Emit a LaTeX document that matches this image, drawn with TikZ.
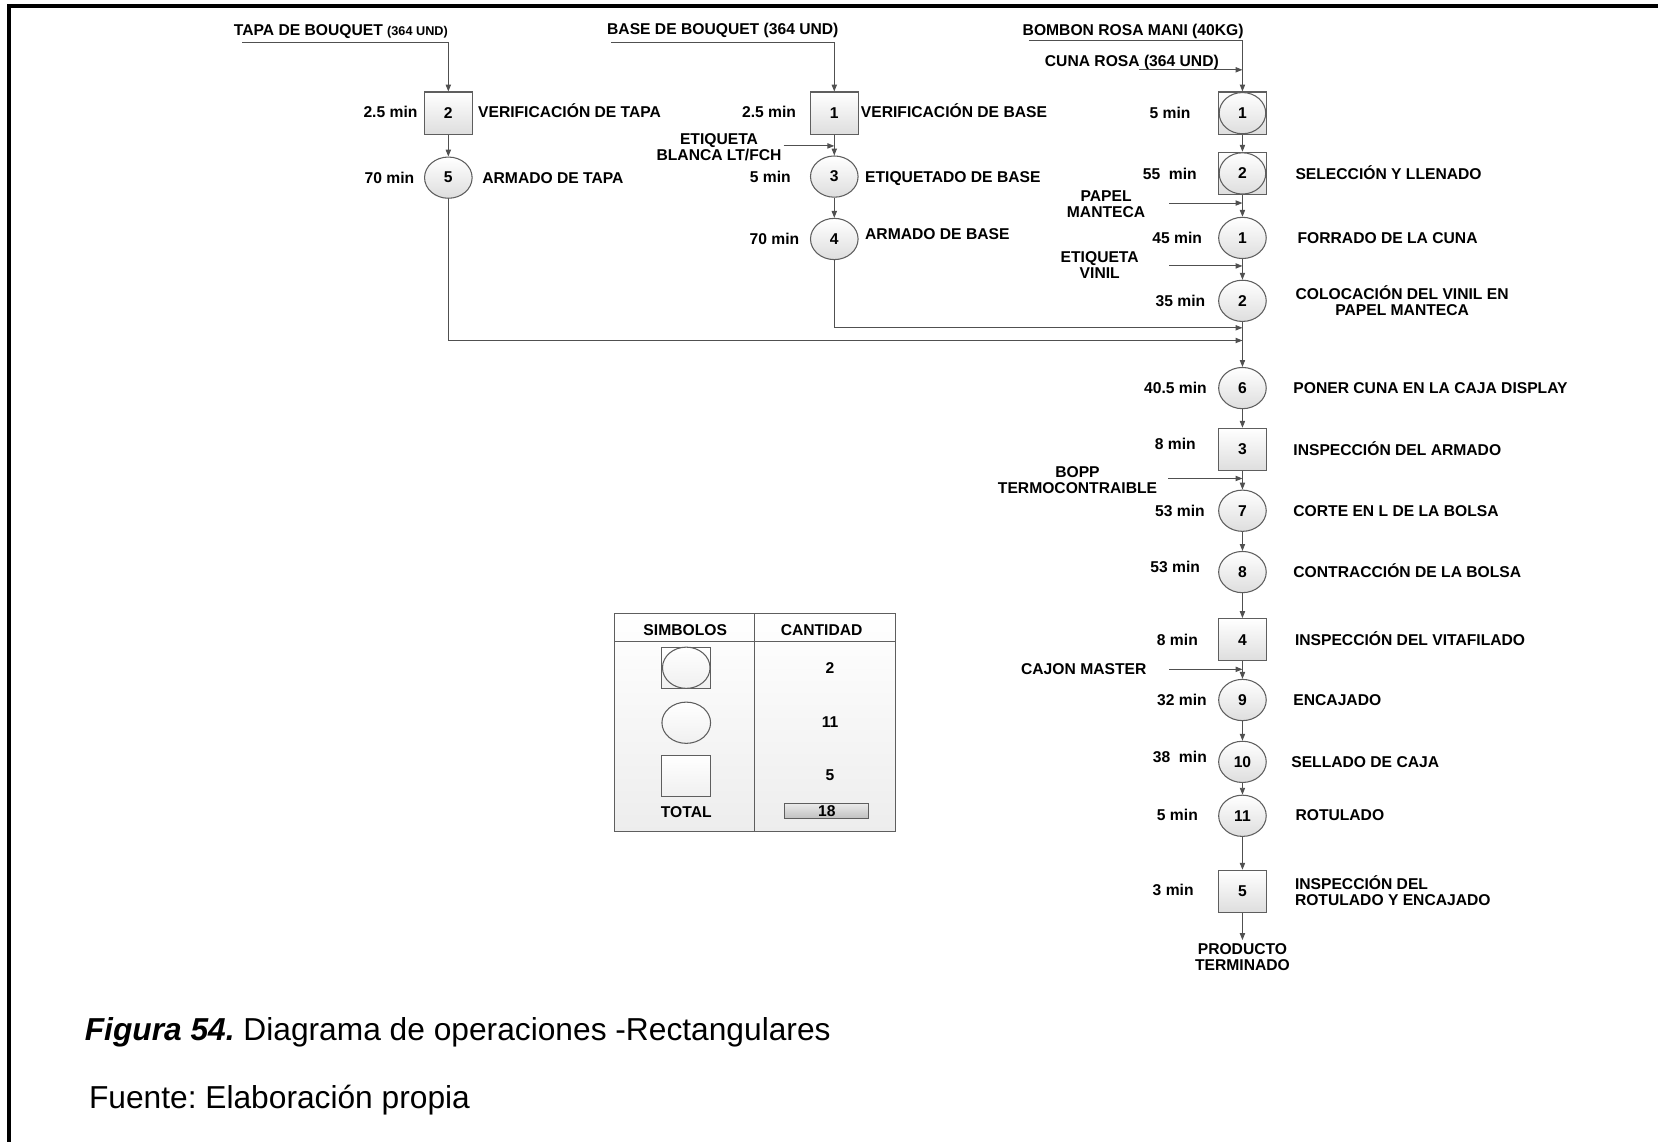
\documentclass[tikz,border=0pt]{standalone}
\usepackage{fontspec}
\setmainfont{Liberation Sans}
\usetikzlibrary{arrows.meta, positioning, shapes.geometric}
\frenchspacing

\definecolor{linegray}{HTML}{505050}
\definecolor{shapegray}{HTML}{5E5E5E}
\newcommand{\lblfont}{\fontsize{14.8}{15}\selectfont\bfseries}
\newcommand{\capfont}{\fontsize{30}{32}\selectfont}

\begin{document}
\begin{tikzpicture}[x=1pt, y=-1pt,
  opcirc/.style = {ellipse, draw=shapegray, line width=1pt, top color=white,
    bottom color=black!13, minimum width=45pt, minimum height=39pt,
    inner sep=0pt, font=\lblfont},
  opbox/.style = {rectangle, draw=shapegray, line width=1pt, top color=white,
    bottom color=black!13, minimum width=45pt, minimum height=40pt,
    inner sep=0pt, font=\lblfont},
  lbl/.style = {font=\lblfont, inner sep=0pt, text height=10.6pt, text depth=0pt},
  lbltwo/.style = {font=\lblfont, inner sep=0pt, align=center},
  flow/.style = {draw=linegray, line width=0.9pt, -{Triangle[length=6.5pt, width=5pt]}},
  plain/.style = {draw=linegray, line width=0.9pt}
]
\useasboundingbox (0,0) rectangle (1568,1080);

% frame
\draw[line width=3.5pt, line cap=rect] (8.5,1080) -- (8.5,6) -- (1568,6);

% tapa
\coordinate (aIn) at (229,40);
\node[lbl, anchor=west] (tapa) at (221,28) {TAPA DE BOUQUET {\fontsize{12}{12}\selectfont (364 UND)}};
\node[opbox] (i2) at (424,107) {2};
\node[opcirc] (o5) at (424,168) {5};
\node[lbl, anchor=east] (ti2) at (395,106) {2.5 min};
\node[lbl, anchor=west] (di2) at (452,106) {VERIFICACIÓN DE TAPA};
\node[lbl, anchor=east] (to5) at (392,168) {70 min};
\node[lbl, anchor=west] (do5) at (456,168) {ARMADO DE TAPA};

% base
\coordinate (bIn) at (578,40);
\coordinate (eIn) at (741,138);
\node[lbl, anchor=west] (base) at (574,27) {BASE DE BOUQUET (364 UND)};
\node[opbox] (i1) at (789,107) {1};
\node[opcirc] (o3) at (789,167) {3};
\node[opcirc] (o4) at (789,226) {4};
\node[lbltwo] (etq) at (680,139) {ETIQUETA\\BLANCA LT/FCH};
\node[lbl, anchor=east] (ti1) at (753,106) {2.5 min};
\node[lbl, anchor=west] (di1) at (814,106) {VERIFICACIÓN DE BASE};
\node[lbl, anchor=east] (to3) at (748,167) {5 min};
\node[lbl, anchor=west] (do3) at (818,167) {ETIQUETADO DE BASE};
\node[lbl, anchor=east] (to4) at (756,226) {70 min};
\node[lbl, anchor=west] (do4) at (818,221) {ARMADO DE BASE};

% cuna
\coordinate (cIn) at (973,38);
\coordinate (cunaIn) at (1077,66);
\coordinate (papelIn) at (1106,192);
\coordinate (vinilIn) at (1106,251.5);
\coordinate (jB) at (1175,310);
\coordinate (jA) at (1175,322);
\node[lbl, anchor=west] (bombon) at (967,28) {BOMBON ROSA MANI (40KG)};
\node[lbl, anchor=west] (cuna) at (988,58) {CUNA ROSA (364 UND)};
\node[opbox, minimum width=46pt] (c1) at (1175,107) {};
\node[opcirc, minimum width=44pt] (c1o) at (c1) {1};
\node[opbox, minimum width=46pt] (c2) at (1175,164) {};
\node[opcirc, minimum width=44pt] (c2o) at (c2) {2};
\node[opcirc] (o1) at (1175,225) {1};
\node[opcirc] (o2) at (1175,284.5) {2};
\node[lbltwo] (papel) at (1046,193) {PAPEL\\MANTECA};
\node[lbltwo] (vinil) at (1040,251) {ETIQUETA\\VINIL};
\node[lbl, anchor=east] (tc1) at (1126,107) {5 min};
\node[lbl, anchor=east] (tc2) at (1132,164) {55 \ min};
\node[lbl, anchor=west] (dc2) at (1225,164) {SELECCIÓN Y LLENADO};
\node[lbl, anchor=east] (to1) at (1137,225) {45 min};
\node[lbl, anchor=west] (do1) at (1227,225) {FORRADO DE LA CUNA};
\node[lbl, anchor=east] (to2) at (1140,284.5) {35 min};
\node[lbltwo] (do2) at (1326,284) {COLOCACIÓN DEL VINIL EN\\PAPEL MANTECA};

% main line
\node[opcirc] (o6) at (1175,367) {6};
\node[opbox] (i3) at (1175,425) {3};
\node[opcirc] (o7) at (1175,483) {7};
\node[opcirc] (o8) at (1175,541) {8};
\node[opbox] (i4) at (1175,605) {4};
\node[opcirc] (o9) at (1175,662) {9};
\node[opcirc] (o10) at (1175,720.5) {10};
\node[opcirc] (o11) at (1175,771.5) {11};
\node[opbox] (i5) at (1175,843) {5};
\coordinate (boppIn) at (1105,452.5);
\coordinate (cajonIn) at (1106,633);
\coordinate (fin) at (1175,889);
\node[lbltwo] (bopp) at (1019,454) {BOPP\\TERMOCONTRAIBLE};
\node[lbl, anchor=west] (cajon) at (965.5,633) {CAJON MASTER};
\node[lbltwo] (prod) at (1175,905) {PRODUCTO\\TERMINADO};

\node[lbl, anchor=east] (to6) at (1141.5,367) {40.5 min};
\node[lbl, anchor=west] (do6) at (1223,367) {PONER CUNA EN LA CAJA DISPLAY};
\node[lbl, anchor=east] (ti3) at (1131,420) {8 min};
\node[lbl, anchor=west] (di3) at (1223,425) {INSPECCIÓN DEL ARMADO};
\node[lbl, anchor=east] (to7) at (1139.5,483) {53 min};
\node[lbl, anchor=west] (do7) at (1223,483) {CORTE EN L DE LA BOLSA};
\node[lbl, anchor=east] (to8) at (1135,536) {53 min};
\node[lbl, anchor=west] (do8) at (1223,541) {CONTRACCIÓN DE LA BOLSA};
\node[lbl, anchor=east] (ti4) at (1133,605) {8 min};
\node[lbl, anchor=west] (di4) at (1224.5,605) {INSPECCIÓN DEL VITAFILADO};
\node[lbl, anchor=east] (to9) at (1141.5,662) {32 min};
\node[lbl, anchor=west] (do9) at (1223,662) {ENCAJADO};
\node[lbl, anchor=east] (to10) at (1141.5,716) {38 \ min};
\node[lbl, anchor=west] (do10) at (1221,720.5) {SELLADO DE CAJA};
\node[lbl, anchor=east] (to11) at (1133,771) {5 min};
\node[lbl, anchor=west] (do11) at (1225,771) {ROTULADO};
\node[lbl, anchor=east] (ti5) at (1129,842) {3 min};
\node[lbltwo, align=left, anchor=west] (di5) at (1224.5,842) {INSPECCIÓN DEL\\ROTULADO Y ENCAJADO};

% connectors
\draw[flow] (aIn) -| (i2);
\draw[flow] (i2) -- (o5);
\draw[flow] (o5) |- (jA);
\draw[flow] (bIn) -| (i1);
\draw[flow] (i1) -- (o3);
\draw[flow] (eIn) -- (eIn -| i1);
\draw[flow] (o3) -- (o4);
\draw[flow] (o4) |- (jB);
\draw[flow] (cIn) -| (c1);
\draw[flow] (cunaIn) -- (cunaIn -| c1);
\draw[flow] (c1) -- (c2);
\draw[flow] (c2) -- (o1);
\draw[flow] (papelIn) -- (papelIn -| o1);
\draw[flow] (o1) -- (o2);
\draw[flow] (vinilIn) -- (vinilIn -| o2);
\draw[flow] (o2) -- (o6);
\draw[flow] (o6) -- (i3);
\draw[flow] (i3) -- (o7);
\draw[flow] (boppIn) -- (boppIn -| o7);
\draw[flow] (o7) -- (o8);
\draw[flow] (o8) -- (i4);
\draw[flow] (i4) -- (o9);
\draw[flow] (cajonIn) -- (cajonIn -| o9);
\draw[flow] (o9) -- (o10);
\draw[flow] (o10) -- (o11);
\draw[flow] (o11) -- (i5);
\draw[flow] (i5) -- (fin);

% summary table
\draw[draw=shapegray, line width=1pt, top color=white, bottom color=black!7]
  (581,580) rectangle (847,786);
\draw[plain, draw=shapegray] (581,607) -- (847,607);
\draw[plain, draw=shapegray] (713.5,580) -- (713.5,786);
\node[lbl] (hsym) at (648,596) {SIMBOLOS};
\node[lbl] (hcant) at (777,596) {CANTIDAD};
\node[opbox, minimum width=46pt, minimum height=39pt, bottom color=black!6] (sq1) at (649,631.5) {};
\node[opcirc, minimum width=45pt, bottom color=black!6] (ci1) at (sq1) {};
\node[opcirc, minimum width=46pt, bottom color=black!6] (ci2) at (649,683.5) {};
\node[opbox, minimum width=46pt, minimum height=39pt, bottom color=black!6] (sq2) at (649,734) {};
\node[lbl] (n1) at (785,632) {2};
\node[lbl] (n2) at (785,683) {11};
\node[lbl] (n3) at (785,733) {5};
\node[lbl] (tot) at (649,768) {TOTAL};
\node[draw=shapegray, line width=1pt, top color=black!8, bottom color=black!25,
  minimum width=79.5pt, minimum height=14.5pt, inner sep=0pt, font=\lblfont] (ntot) at (782,767) {18};

% caption
\node[font=\capfont, inner sep=0pt, anchor=base west] (fig) at (80,984)
  {\textbf{\textit{Figura 54.}} Diagrama de operaciones -Rectangulares};
\node[font=\capfont, inner sep=0pt, anchor=base west] (src) at (84,1048)
  {Fuente: Elaboración propia};
\end{tikzpicture}
\end{document}
